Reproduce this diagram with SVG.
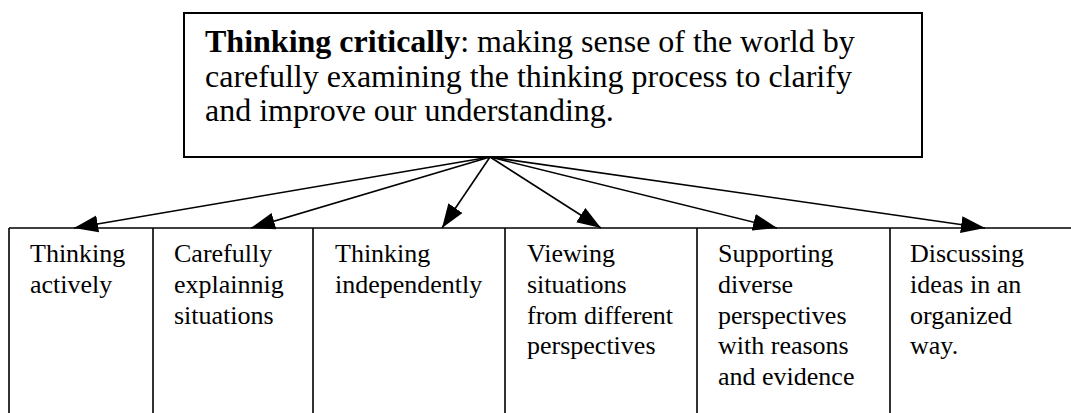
<svg xmlns="http://www.w3.org/2000/svg" width="1071" height="413" viewBox="0 0 1071 413">
<style>
text{font-family:"Liberation Serif","Times New Roman",serif;fill:#000}
.top{font-size:32px}
.cell{font-size:26px}
.box{fill:#fff;stroke:#000;stroke-width:2}
.grid{stroke:#000;stroke-width:1.6;fill:none}
.conn{stroke:#000;stroke-width:1.6;fill:none}
</style>
<defs>
<marker id="ah" markerUnits="userSpaceOnUse" markerWidth="25" markerHeight="18" refX="24" refY="8.5" orient="auto" viewBox="0 0 25 17">
<path d="M0,0 L24,8.5 L0,17 z" fill="#000"/>
</marker>
</defs>
<rect width="1071" height="413" fill="#fff"/>
<g id="main">
<rect class="box" x="184" y="13" width="738" height="144"/>
<text class="top" x="205" y="52"><tspan font-weight="bold">Thinking critically</tspan>: making sense of the world by</text>
<text class="top" x="205" y="87">carefully examining the thinking process to clarify</text>
<text class="top" x="205" y="121">and improve our understanding.</text>
</g>
<g id="row">
<path class="grid" d="M9,228 H1071 M9,228 V413 M153,228 V413 M313,228 V413 M505,228 V413 M697,228 V413 M890,228 V413"/>
</g>
<g id="n1"><text class="cell" x="30" y="262">Thinking</text><text class="cell" x="30" y="293">actively</text></g>
<g id="n2"><text class="cell" x="174" y="262">Carefully</text><text class="cell" x="174" y="293">explainnig</text><text class="cell" x="174" y="324">situations</text></g>
<g id="n3"><text class="cell" x="335" y="262">Thinking</text><text class="cell" x="335" y="293">independently</text></g>
<g id="n4"><text class="cell" x="527" y="262">Viewing</text><text class="cell" x="527" y="293">situations</text><text class="cell" x="527" y="324">from different</text><text class="cell" x="527" y="354">perspectives</text></g>
<g id="n5"><text class="cell" x="718" y="262">Supporting</text><text class="cell" x="718" y="293">diverse</text><text class="cell" x="718" y="324">perspectives</text><text class="cell" x="718" y="354">with reasons</text><text class="cell" x="718" y="385">and evidence</text></g>
<g id="n6"><text class="cell" x="910" y="262">Discussing</text><text class="cell" x="910" y="293">ideas in an</text><text class="cell" x="910" y="324">organized</text><text class="cell" x="910" y="354">way.</text></g>
<g id="connectors">
<line class="conn" x1="490" y1="157" x2="74" y2="228" marker-end="url(#ah)"/>
<line class="conn" x1="490" y1="157" x2="251" y2="228" marker-end="url(#ah)"/>
<line class="conn" x1="490" y1="157" x2="442" y2="228" marker-end="url(#ah)"/>
<line class="conn" x1="490" y1="157" x2="601" y2="228" marker-end="url(#ah)"/>
<line class="conn" x1="490" y1="157" x2="777" y2="228" marker-end="url(#ah)"/>
<line class="conn" x1="490" y1="157" x2="985" y2="228" marker-end="url(#ah)"/>
</g>
</svg>
